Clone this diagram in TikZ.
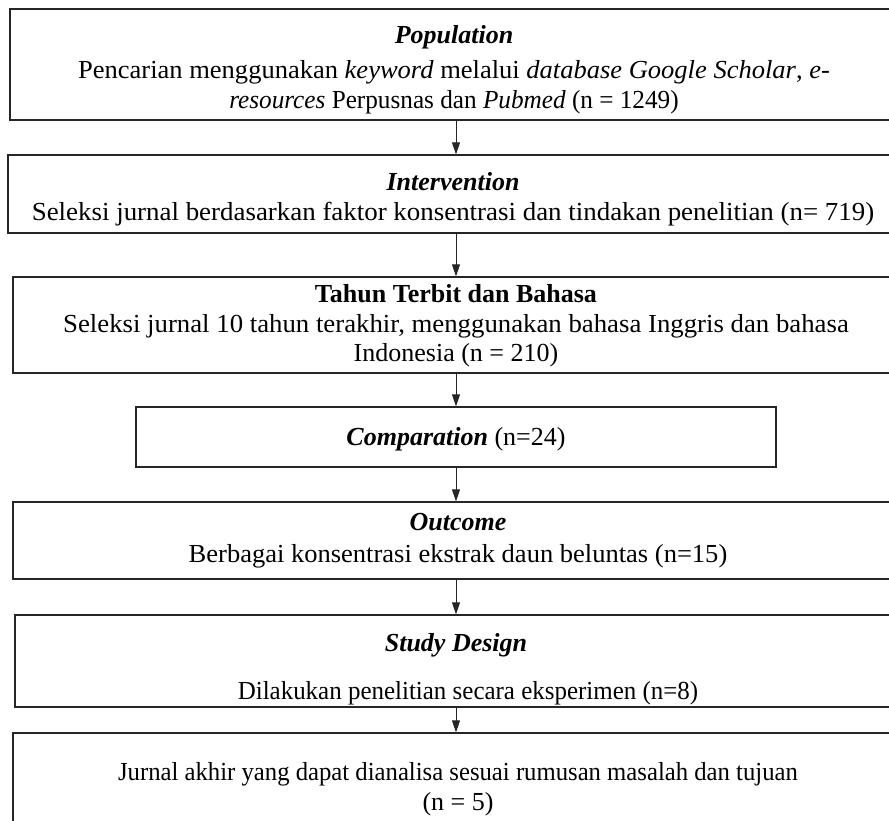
\documentclass[tikz,border=0pt]{standalone}
\usepackage{graphicx}
\usepackage{fontspec}
\setmainfont{Liberation Serif}
\usetikzlibrary{arrows.meta}
\newcommand{\hsc}[2]{\scalebox{#1}[1]{#2}}
\begin{document}
\begin{tikzpicture}[x=1pt,y=-1pt,
  box/.style={draw=black!85, line width=1.3pt, inner sep=0pt},
  txt/.style={align=center, inner sep=0pt, font=\fontsize{26}{29.5}\selectfont},
  arr/.style={line width=0.9pt, draw=black!85, -{Triangle[length=12pt,width=8pt]}}]
\clip (0,0) rectangle (889,821);
\fill[white] (0,0) rectangle (889,821);
% boxes
\node[box, minimum width=892pt, minimum height=111pt] (pop) at (456,64.5) {};
\node[box, minimum width=896pt, minimum height=78pt] (int) at (456,194) {};
\node[box, minimum width=886pt, minimum height=96pt] (thn) at (456,325) {};
\node[box, minimum width=640pt, minimum height=60pt] (cmp) at (456,437) {};
\node[box, minimum width=886pt, minimum height=77pt] (out) at (456,540.5) {};
\node[box, minimum width=882pt, minimum height=92pt] (sd) at (456,661) {};
\node[box, minimum width=886pt, minimum height=117pt] (fin) at (456,791.5) {};
% texts
\node[txt] (popt) at (454,69.5)
  {\textbf{\textit{Population}}\\[6pt]
   \hsc{1.02}{Pencarian menggunakan \textit{keyword} melalui \textit{database Google Scholar}, \textit{e-}}\\
   \hsc{0.97}{\textit{resources} Perpusnas dan \textit{Pubmed} (n = 1249)}};
\node[txt] (intt) at (453,199)
  {\textbf{\textit{Intervention}}\\
   \hsc{1.035}{Seleksi jurnal berdasarkan faktor konsentrasi dan tindakan penelitian (n= 719)}};
\node[txt] (thnt) at (456,326)
  {\textbf{Tahun Terbit dan Bahasa}\\
   \hsc{1.03}{Seleksi jurnal 10 tahun terakhir, menggunakan bahasa Inggris dan bahasa}\\
   Indonesia (n = 210)};
\node[txt] (cmpt) at (456,439) {\textbf{\textit{Comparation}} (n=24)};
\node[txt] (outt) at (458,540.5)
  {\textbf{\textit{Outcome}}\\[2pt]
   \hsc{1.02}{Berbagai konsentrasi ekstrak daun beluntas (n=15)}};
\node[txt] (sdt) at (456,645) {\textbf{\textit{Study Design}}};
\begin{scope}
  \clip (15,615) rectangle (897,706);
  \node[txt, anchor=base] (sdl) at (468,699) {\hsc{0.96}{Dilakukan penelitian secara eksperimen (n=8)}};
\end{scope}
\node[txt] (fint) at (458,789)
  {\hsc{0.95}{Jurnal akhir yang dapat dianalisa sesuai rumusan masalah dan tujuan}\\ (n = 5)};
% connectors
\draw[arr] (pop.south) -- (pop.south |- int.north);
\draw[arr] (int.south) -- (int.south |- thn.north);
\draw[arr] (thn.south) -- (thn.south |- cmp.north);
\draw[arr] (cmp.south) -- (cmp.south |- out.north);
\draw[arr] (out.south) -- (out.south |- sd.north);
\draw[arr] (sd.south) -- (sd.south |- fin.north);
\end{tikzpicture}
\end{document}
